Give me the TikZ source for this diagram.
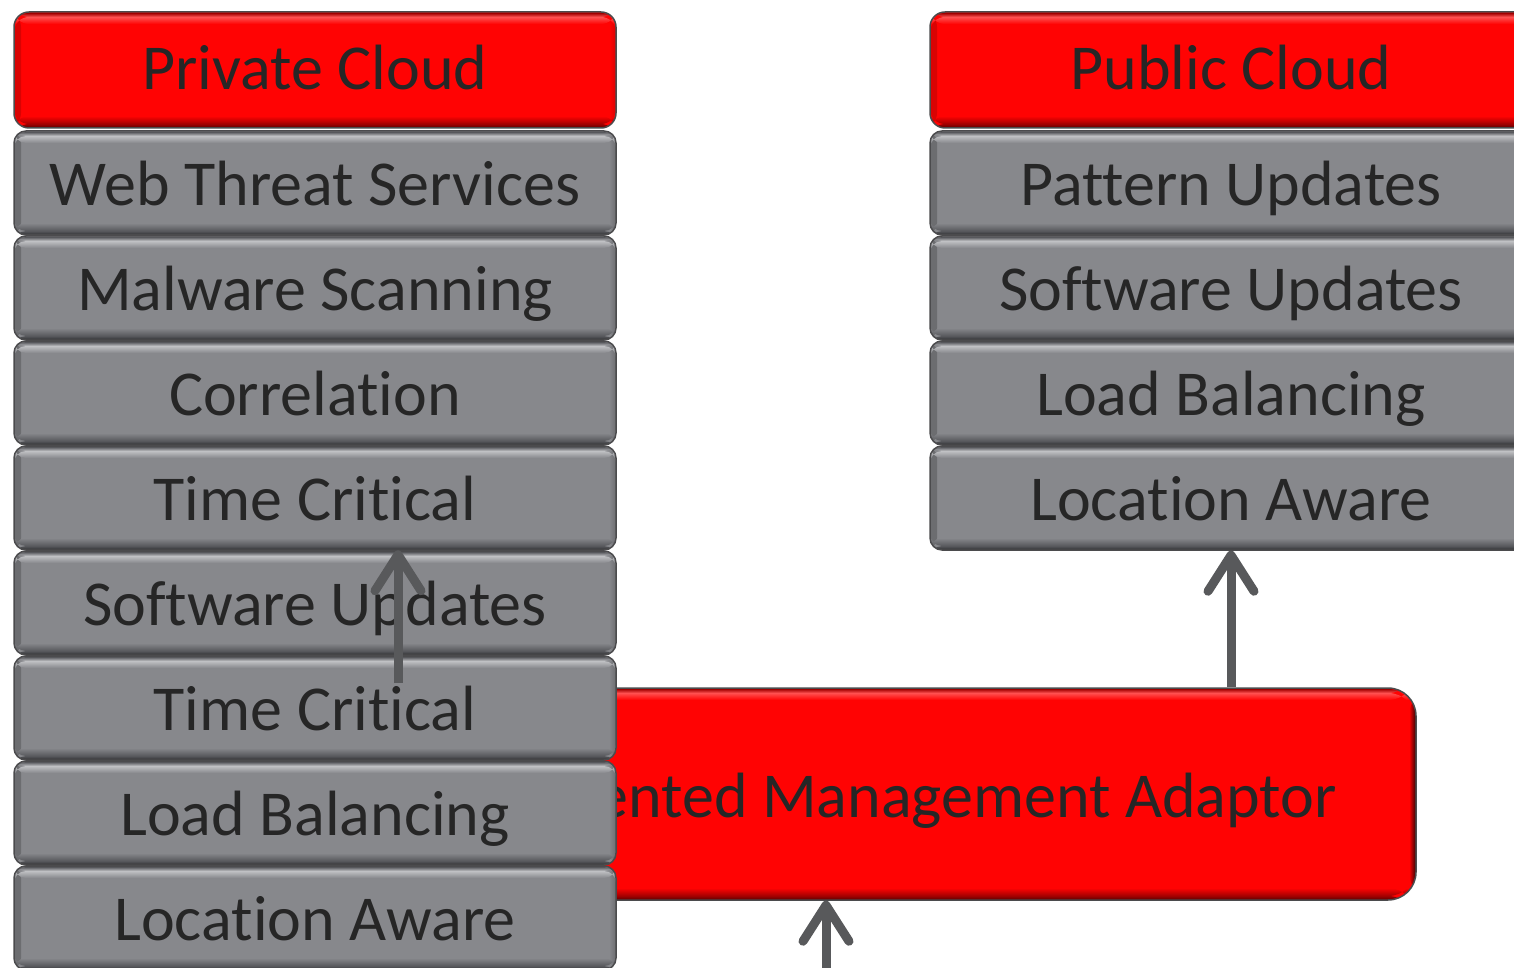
\documentclass[tikz,border=0pt]{standalone}
\usepackage{fontspec}
\setmainfont[Ligatures=NoCommon]{Carlito}
\usetikzlibrary{arrows.meta}

\definecolor{ink}{HTML}{262626}
\definecolor{tileGray}{HTML}{87888C}
\definecolor{grayLight}{HTML}{C0C1C4}
\definecolor{grayDark}{HTML}{57585C}
\definecolor{tileRed}{HTML}{FF0303}
\definecolor{redLight}{HTML}{FF5050}
\definecolor{redDark}{HTML}{A00000}
\definecolor{edge}{HTML}{4B4B4D}
\definecolor{arrowGray}{HTML}{58595B}

\tikzset{
  % glossy bevel: darker sides, light rim along the top, dark rim along the bottom
  bevel/.style n args={4}{path picture={
    \shade[left color=#4, right color=#1]
      (path picture bounding box.south west) rectangle ([xshift=7pt]path picture bounding box.north west);
    \shade[left color=#1, right color=#4]
      ([xshift=-7pt]path picture bounding box.south east) rectangle (path picture bounding box.north east);
    \shade[top color=#3, bottom color=#2]
      ([yshift=-1pt]path picture bounding box.north west) rectangle ([yshift=-5pt]path picture bounding box.north east);
    \shade[top color=#2, bottom color=#1]
      ([yshift=-5pt]path picture bounding box.north west) rectangle ([yshift=-12pt]path picture bounding box.north east);
    \shade[top color=#1, bottom color=#3]
      ([yshift=12pt]path picture bounding box.south west) rectangle ([yshift=4pt]path picture bounding box.south east);
    \shade[top color=#3, bottom color=#3!55!black]
      ([yshift=4pt]path picture bounding box.south west) rectangle (path picture bounding box.south east);
  }},
  tile/.style={draw=edge, line width=1.5pt, rounded corners=12pt, minimum width=602pt,
    inner sep=0pt, text=ink, font=\fontsize{64}{70}\selectfont, text depth=0pt},
  graytile/.style={tile, minimum height=104pt, fill=tileGray, text height=45pt,
    bevel={tileGray}{grayLight}{grayDark}{tileGray!80!black}},
  redtile/.style={tile, minimum height=116pt, fill=tileRed, text height=39pt, rounded corners=15pt,
    bevel={tileRed}{redLight}{redDark}{tileRed!85!black}},
  adaptorbox/.style={draw=edge, line width=1.5pt, rounded corners=28pt, fill=tileRed,
    minimum width=960pt, minimum height=212pt, inner sep=0pt,
    bevel={tileRed}{redLight}{redDark}{black!80!tileRed}},
  adaptortext/.style={text=ink, font=\fontsize{64}{70}\selectfont, inner sep=0pt},
  arrowline/.style={draw=arrowGray, line width=9pt,
    -{Straight Barb[length=36pt, width=46pt, line cap=round, line join=round]}},
}

\begin{document}
\begin{tikzpicture}[x=1pt, y=-1pt]
  \clip (0,0) rectangle (1514,968);

  % management adaptor, partly hidden behind the private cloud stack
  \node[adaptorbox] (adaptor) at (936,794) {};
  \node[adaptortext, anchor=base east] (adaptorlabel) at (1337,817) {Oriented Management Adaptor};

  % private cloud stack
  \node[redtile]  (prv)  at (315,70)  {Private Cloud};
  \node[graytile] (pv1)  at (315,183) {Web Threat Services};
  \node[graytile] (pv2)  at (315,288) {Malware Scanning};
  \node[graytile] (pv3)  at (315,393) {Correlation};
  \node[graytile] (pv4)  at (315,498) {Time Critical};
  \node[graytile] (pv5)  at (315,603) {Software Updates};
  \node[graytile] (pv6)  at (315,708) {Time Critical};
  \node[graytile] (pv7)  at (315,813) {Load Balancing};
  \node[graytile] (pv8)  at (315,918) {Location Aware};

  % public cloud stack
  \node[redtile]  (pub)  at (1231,70)  {Public Cloud};
  \node[graytile] (pb1)  at (1231,183) {Pattern Updates};
  \node[graytile] (pb2)  at (1231,288) {Software Updates};
  \node[graytile] (pb3)  at (1231,393) {Load Balancing};
  \node[graytile] (pb4)  at (1231,498) {Location Aware};

  % connectors
  \coordinate (upFoot) at (398,683);
  \coordinate (inFoot) at (826,980);
  \draw[arrowline] (adaptor.north -| pb4.south) -- (pb4.south);
  \draw[arrowline] (upFoot) -- (upFoot |- pv5.north);
  \draw[arrowline] (inFoot) -- (inFoot |- adaptor.south);
\end{tikzpicture}
\end{document}
